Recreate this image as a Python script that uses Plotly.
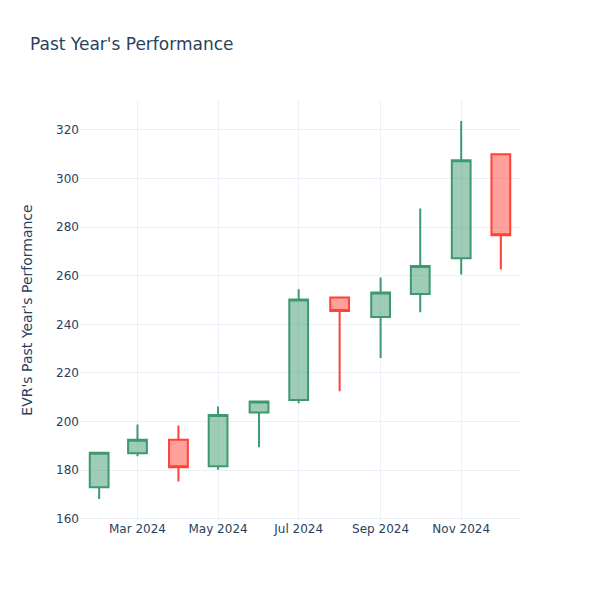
import plotly.graph_objects as go

dates = ["2024-02-01", "2024-03-01", "2024-04-01", "2024-05-01", "2024-06-01", "2024-07-01",
         "2024-08-01", "2024-09-01", "2024-10-01", "2024-11-01", "2024-12-01"]
opens = [172.9, 186.9, 192.5, 181.6, 203.7, 208.9, 251.0, 243.0, 252.5, 267.2, 310.0]
highs = [187.3, 198.8, 198.4, 206.2, 208.5, 254.4, 251.2, 259.3, 287.7, 323.7, 310.2]
lows = [168.1, 185.7, 175.3, 180.1, 189.4, 207.5, 212.5, 226.1, 245.0, 260.5, 262.6]
closes = [187.1, 192.5, 181.2, 202.7, 208.2, 250.2, 245.5, 253.1, 264.0, 307.5, 276.7]

fig = go.Figure(go.Candlestick(x=dates, open=opens, high=highs, low=lows, close=closes))
fig.update_layout(
    template="plotly_white",
    width=600, height=600,
    font=dict(family="DejaVu Sans"),
    margin=dict(l=72, r=88, t=92, b=88),
    title=dict(text="Past Year's Performance", x=22 / 600, xref="container",
               y=0.94, yref="container", yanchor="middle"),
    yaxis=dict(title=dict(text="EVR's Past Year's Performance", standoff=20)),
    xaxis_rangeslider_visible=False,
)
fig.write_html("out.html")
